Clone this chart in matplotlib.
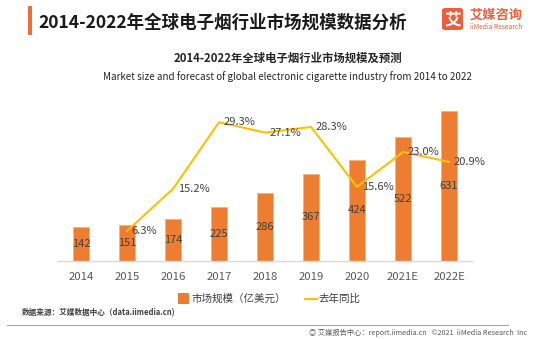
import matplotlib
matplotlib.use("Agg")
import matplotlib.pyplot as plt
from matplotlib.patches import FancyBboxPatch, Rectangle
from matplotlib.lines import Line2D
import numpy as np

plt.rcParams['font.family'] = ['Noto Sans CJK SC', 'DejaVu Sans']

years = ["2014", "2015", "2016", "2017", "2018", "2019", "2020", "2021E", "2022E"]
market_size = [142, 151, 174, 225, 286, 367, 424, 522, 631]
yoy_growth = [np.nan, 6.3, 15.2, 29.3, 27.1, 28.3, 15.6, 23.0, 20.9]
growth_labels = ["", "6.3%", "15.2%", "29.3%", "27.1%", "28.3%", "15.6%", "23.0%", "20.9%"]

W, H = 550, 339
fig = plt.figure(figsize=(W / 100, H / 100), dpi=100)
fig.patch.set_facecolor("white")

def fx(px):
    return px / W

def fy(py):
    return 1 - py / H

bar_color = "#ED7D31"
line_color = "#FFC000"
label_color = "#404040"

ax_left, ax_right, ax_bottom, ax_top = 58, 472, 260.7, 100
ax = fig.add_axes([fx(ax_left), fy(ax_bottom), (ax_right - ax_left) / W, (ax_bottom - ax_top) / H])
x = np.arange(len(years))
ax.bar(x, market_size, width=0.33, color=bar_color, edgecolor="#F4B183", linewidth=0.5, zorder=2)
ax.set_xlim(-0.5, 8.5)
ax.set_ylim(0, 678.6)
for i, v in enumerate(market_size):
    ax.text(i, v / 2, str(v), ha="center", va="center", fontsize=8, color=label_color, zorder=5)
ax.set_xticks(x)
ax.set_xticklabels(years, fontsize=8.2, color="#595959")
ax.tick_params(axis="x", length=0, pad=8)
ax.set_yticks([])
for s in ["top", "right", "left"]:
    ax.spines[s].set_visible(False)
ax.spines["bottom"].set_color("#D9D9D9")
ax.spines["bottom"].set_linewidth(1.0)

ax2 = ax.twinx()
ax2.plot(x, yoy_growth, color=line_color, linewidth=1.5, zorder=3)
ax2.set_ylim(0, 34.0)
ax2.set_yticks([])
for s in ["top", "right", "left", "bottom"]:
    ax2.spines[s].set_visible(False)
for i, (v, lab) in enumerate(zip(yoy_growth, growth_labels)):
    if lab:
        ax2.annotate(lab, (i, v), xytext=(3.5, 0), textcoords="offset points",
                     ha="left", va="center", fontsize=8, color=label_color)

# Title bar and title
fig.patches.append(Rectangle((fx(28), fy(35)), fx(4), (35 - 6) / H, transform=fig.transFigure,
                             facecolor="#F26B3A", edgecolor="none"))
fig.text(fx(38), fy(22.5), "2014-2022年全球电子烟行业市场规模数据分析", fontsize=12.6,
         fontweight="bold", color="#1a1a1a", ha="left", va="center")

# Logo
fig.patches.append(FancyBboxPatch((fx(442), fy(30)), fx(21), (30 - 8) / H,
                                  boxstyle="round,pad=0,rounding_size=0.006",
                                  transform=fig.transFigure, facecolor="#E8603C", edgecolor="none"))
fig.text(fx(452.5), fy(19.5), "艾", fontsize=12, fontweight="bold", color="white", ha="center", va="center")
fig.text(fx(470), fy(15), "艾媒咨询", fontsize=9.5, fontweight="bold", color="#E8603C", ha="left", va="center")
fig.text(fx(470), fy(27), "iiMedia Research", fontsize=4.8, color="#E8603C", ha="left", va="center")

# Subtitles
fig.text(fx(287.5), fy(58), "2014-2022年全球电子烟行业市场规模及预测", fontsize=8.2,
         fontweight="bold", color="#262626", ha="center", va="center")
fig.text(fx(287.5), fy(77), "Market size and forecast of global electronic cigarette industry from 2014 to 2022",
         fontsize=7.1, color="#262626", ha="center", va="center")

# Legend
fig.patches.append(Rectangle((fx(178), fy(303.5)), fx(11), 11 / H, transform=fig.transFigure,
                             facecolor=bar_color, edgecolor="none"))
fig.text(fx(191), fy(298.5), "市场规模（亿美元）", fontsize=7.6, color="#404040", ha="left", va="center")
fig.lines.append(Line2D([fx(305), fx(317)], [fy(298.5), fy(298.5)], transform=fig.transFigure,
                        color=line_color, linewidth=1.5))
fig.text(fx(318), fy(298.5), "去年同比", fontsize=7.6, color="#404040", ha="left", va="center")

# Source
fig.text(fx(22), fy(313), "数据来源：艾媒数据中心（data.iimedia.cn)", fontsize=5.5, fontweight="bold",
         color="#404040", ha="left", va="center")
fig.lines.append(Line2D([fx(7), fx(508)], [fy(325), fy(325)], transform=fig.transFigure,
                        color="#A6A6A6", linewidth=0.8))
fig.text(fx(527), fy(333), "◎ 艾媒报告中心：report.iimedia.cn   ©2021  iiMedia Research  Inc", fontsize=5.2,
         color="#595959", ha="right", va="center")

fig.savefig("out.png", dpi=100)
